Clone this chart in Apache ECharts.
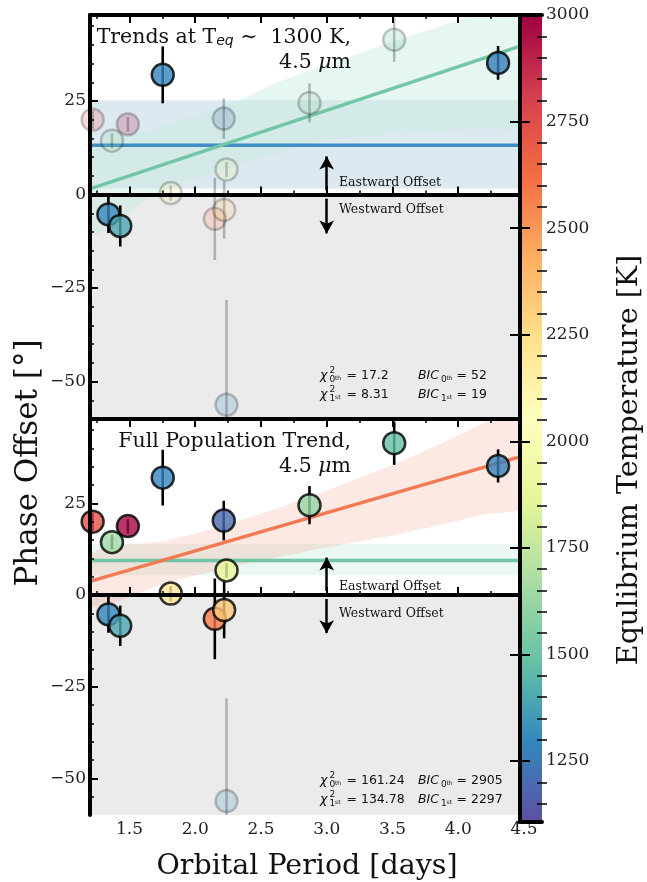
<!DOCTYPE html>
<html>
<head>
<meta charset="utf-8">
<script src="https://cdn.jsdelivr.net/npm/echarts@6/dist/echarts.min.js"></script>
<style>
  html, body { margin: 0; padding: 0; background: #fff; }
  #chart { width: 647px; height: 882px; }
</style>
</head>
<body>
<div id="chart"></div>
<script>
// ---- Planets: orbital period [days], 4.5 um phase offset [deg], 1-sigma error, T_eq [K]
const period    = [1.22, 1.34, 1.367, 1.43, 1.488, 1.753, 1.814, 2.149, 2.22, 2.217, 2.238, 2.238, 2.869, 3.513, 4.303];
const offset    = [20.0, -5.3, 14.4, -8.4, 18.8, 32.0, 0.4, -6.5, -4.1, 20.3, 6.7, -56.2, 24.5, 41.4, 35.2];
const offsetErr = [2.5, 5.0, 2.0, 5.5, 2.0, 7.6, 2.0, 11.0, 7.7, 5.4, 2.0, 28.0, 5.2, 5.9, 4.5];
const teq       = [2730, 1290, 1650, 1390, 2980, 1290, 2200, 2580, 2335, 1195, 1880, 1300, 1610, 1480, 1270];
// planets inside the T_eq ~ 1300 K selection, and the excluded outlier
const inTeqBin  = [0, 1, 0, 1, 0, 1, 0, 0, 0, 0, 0, 0, 0, 0, 1];
const isOutlier = [0, 0, 0, 0, 0, 0, 0, 0, 0, 0, 0, 1, 0, 0, 0];

// ---- Fits, upper panel (T_eq ~ 1300 K subset)
const flatFitTop     = 13.2;
const flatBandTop    = [1.6, 25.2];
const slopeFitTopX   = [1.2, 4.5];
const slopeFitTopY   = [1.5, 40.0];
const slopeBandTopX  = [1.2, 1.7, 2.32, 2.64, 3.02, 3.6, 4.2, 4.5];
const slopeBandTopHi = [11.0, 17.5, 25.0, 30.2, 35.0, 42.0, 49.0, 53.0];
const slopeBandTopLo = [-11.0, 0.0, 8.0, 11.1, 14.7, 16.5, 17.8, 18.5];

// ---- Fits, lower panel (full population)
const flatFitAll     = 9.4;
const flatBandAll    = [5.4, 13.9];
const slopeFitAllX   = [1.2, 4.5];
const slopeFitAllY   = [3.7, 38.0];
const slopeBandAllX  = [1.2, 1.8, 2.4, 3.0, 3.6, 4.2, 4.5];
const slopeBandAllHi = [11.0, 15.0, 21.0, 28.5, 37.0, 47.0, 52.0];
const slopeBandAllLo = [-3.0, 3.5, 8.5, 13.0, 17.0, 22.0, 24.5];

// ---- Fit statistics
const statsTop = { chi0: '17.2',   chi1: '8.31',   bic0: '52',   bic1: '19' };
const statsAll = { chi0: '161.24', chi1: '134.78', bic0: '2905', bic1: '2297' };

// ---- Axis ranges and ticks
const xMin = 1.2, xMax = 4.5, yMin = -60, yMax = 48;
const xMajor = [1.5, 2.0, 2.5, 3.0, 3.5, 4.0, 4.5];
const xMinor = [1.25, 1.75, 2.25, 2.75, 3.25, 3.75, 4.25];
const yMajor = [-50, -25, 0, 25];
const tMin = 1107, tMax = 3000;
const tMajor = [1250, 1500, 1750, 2000, 2250, 2500, 2750, 3000];

const yMinor = [];
for (let v = -55; v <= 45; v += 5) if (v % 25 !== 0) yMinor.push(v);
const tMinor = [];
for (let v = 1150; v < 3000; v += 50) if (v % 250 !== 0) tMinor.push(v);

// ---- Spectral_r colour map
const SPECTRAL = ['#5e4fa2', '#3288bd', '#66c2a5', '#abdda4', '#e6f598', '#ffffbf',
                  '#fee08b', '#fdae61', '#f46d43', '#d53e4f', '#9e0142'];
function hexRgb(h) { return [1, 3, 5].map(i => parseInt(h.substr(i, 2), 16)); }
function cmap(T, alpha) {
  let t = Math.max(0, Math.min(1, (T - tMin) / (tMax - tMin))) * (SPECTRAL.length - 1);
  const i = Math.min(SPECTRAL.length - 2, Math.floor(t));
  const f = t - i;
  const a = hexRgb(SPECTRAL[i]), b = hexRgb(SPECTRAL[i + 1]);
  const c = a.map((v, k) => Math.round(v + (b[k] - v) * f));
  return 'rgba(' + c[0] + ',' + c[1] + ',' + c[2] + ',' + (alpha == null ? 1 : alpha) + ')';
}

const SERIF = 'DejaVu Serif';
const SANS = 'DejaVu Sans';
const fmtMinus = v => (v < 0 ? '\u2212' + (-v) : String(v));

const panels = [
  { top: 15, height: 404 },
  { top: 419, height: 403 }
];
const GRID_L = 90, GRID_W = 434;

const grids = panels.map(p => ({ left: GRID_L, top: p.top, width: GRID_W, height: p.height }));
// colour bar
grids.push({ left: 520, top: 15, width: 22, height: 807 });

const xAxes = [], yAxes = [];
panels.forEach((p, g) => {
  const base = { gridIndex: g, type: 'value', min: xMin, max: xMax, z: 10, splitLine: { show: false } };
  ['bottom', 'top'].forEach(pos => {
    xAxes.push(Object.assign({}, base, {
      position: pos,
      axisLine: { show: true, lineStyle: { color: '#000', width: 4 } },
      axisTick: { show: true, inside: true, length: 8, customValues: xMajor, lineStyle: { color: '#000', width: 2 } },
      axisLabel: (pos === 'bottom' && g === 1)
        ? { show: true, customValues: xMajor, formatter: v => v.toFixed(1), fontFamily: SERIF, fontSize: 17, color: '#222', margin: 6 }
        : { show: false },
      name: (pos === 'bottom' && g === 1) ? 'Orbital Period [days]' : '',
      nameLocation: 'middle', nameGap: 37,
      nameTextStyle: { fontFamily: SERIF, fontSize: 28.5, color: '#111' }
    }));
    xAxes.push(Object.assign({}, base, {
      position: pos,
      axisLine: { show: false },
      axisTick: { show: true, inside: true, length: 4, customValues: xMinor, lineStyle: { color: '#000', width: 1.5 } },
      axisLabel: { show: false }
    }));
  });
  const ybase = { gridIndex: g, type: 'value', min: yMin, max: yMax, z: 10, position: 'left', splitLine: { show: false } };
  yAxes.push(Object.assign({}, ybase, {
    axisLine: { show: true, lineStyle: { color: '#000', width: 4 } },
    axisTick: { show: true, inside: true, length: 8, customValues: yMajor, lineStyle: { color: '#000', width: 2 } },
    axisLabel: { show: true, customValues: yMajor, formatter: fmtMinus, fontFamily: SERIF, fontSize: 17, color: '#222', margin: 4 }
  }));
  yAxes.push(Object.assign({}, ybase, {
    axisLine: { show: false },
    axisTick: { show: true, inside: true, length: 4, customValues: yMinor, lineStyle: { color: '#000', width: 1.5 } },
    axisLabel: { show: false }
  }));
});
// colour-bar axes (grid 2)
const cbX = xAxes.length;
['bottom', 'top'].forEach(pos => xAxes.push({
  gridIndex: 2, type: 'value', min: 0, max: 1, position: pos, z: 30,
  axisLine: { show: true, lineStyle: { color: '#000', width: 4 } },
  axisTick: { show: false }, axisLabel: { show: false }, splitLine: { show: false }
}));
const cbY = yAxes.length;
yAxes.push({
  gridIndex: 2, type: 'value', min: tMin, max: tMax, position: 'right', z: 30,
  axisLine: { show: true, lineStyle: { color: '#000', width: 4 } },
  axisTick: { show: true, inside: false, length: 10, customValues: tMajor, lineStyle: { color: '#000', width: 2 } },
  axisLabel: { show: true, customValues: tMajor, formatter: v => String(v), fontFamily: SERIF, fontSize: 17, color: '#222', margin: 4 },
  splitLine: { show: false }
});
[[true, 10, tMajor, 2], [true, 5, tMinor, 1.5], [false, 5, tMinor, 1.5]].forEach(([inside, len, vals, w]) => yAxes.push({
  gridIndex: 2, type: 'value', min: tMin, max: tMax, position: 'right', z: 30,
  axisLine: { show: false },
  axisTick: { show: true, inside: inside, length: len, customValues: vals, lineStyle: { color: '#000', width: w } },
  axisLabel: { show: false }, splitLine: { show: false }
}));
yAxes.push({
  gridIndex: 2, type: 'value', min: tMin, max: tMax, position: 'left', z: 30,
  axisLine: { show: true, lineStyle: { color: '#000', width: 4 } },
  axisTick: { show: false }, axisLabel: { show: false }, splitLine: { show: false }
});

// axis indices per panel: x bottom major = 4g, y left major = 2g
const series = [];

function bandSeries(g, xs, hi, lo, color, z) {
  return {
    type: 'custom', xAxisIndex: 4 * g, yAxisIndex: 2 * g, clip: true, z: z, silent: true,
    data: [0],
    renderItem: (params, api) => {
      const pts = [];
      xs.forEach((x, i) => pts.push(api.coord([x, hi[i]])));
      for (let i = xs.length - 1; i >= 0; i--) pts.push(api.coord([xs[i], lo[i]]));
      return { type: 'polygon', shape: { points: pts, smooth: 0.3 }, style: { fill: color } };
    }
  };
}

function lineSeries(g, xs, ys, color, z) {
  return {
    type: 'line', xAxisIndex: 4 * g, yAxisIndex: 2 * g, z: z, silent: true,
    symbol: 'none', data: xs.map((x, i) => [x, ys[i]]),
    lineStyle: { color: color, width: 3.5 }
  };
}

panels.forEach((p, g) => {
  const xi = 4 * g, yi = 2 * g;
  // shaded westward half and horizontal fit band
  const areas = [[{ yAxis: yMin, itemStyle: { color: '#ebebeb' } }, { yAxis: 0 }]];
  const fb = g === 0 ? flatBandTop : flatBandAll;
  areas.push([{ yAxis: fb[0], itemStyle: { color: g === 0 ? 'rgba(60,135,170,0.18)' : 'rgba(102,194,165,0.13)' } }, { yAxis: fb[1] }]);
  series.push({
    type: 'line', xAxisIndex: xi, yAxisIndex: yi, z: 1, silent: true, data: [],
    markArea: { silent: true, data: areas },
  });
  if (g === 0) series.push(bandSeries(0, slopeBandTopX, slopeBandTopHi, slopeBandTopLo, 'rgba(200,236,222,0.45)', 2));
  else series.push(bandSeries(1, slopeBandAllX, slopeBandAllHi, slopeBandAllLo, 'rgba(240,120,80,0.16)', 2));

  // zero line
  series.push({
    type: 'line', xAxisIndex: xi, yAxisIndex: yi, z: 3, silent: true, data: [],
    markLine: {
      silent: true, symbol: 'none', label: { show: false },
      lineStyle: { color: '#8a8a8a', width: 1.5, type: [6, 3] },
      data: [{ yAxis: 0 }]
    }
  });
  // eastward / westward arrows
  series.push({
    type: 'line', xAxisIndex: xi, yAxisIndex: yi, z: 5, silent: true, data: [],
    markLine: {
      silent: true, symbol: ['none', 'arrow'], symbolSize: [11, 13], label: { show: false },
      lineStyle: { color: '#000', width: 2.5, type: 'solid' },
      data: [
        [{ coord: [3.0, 1.1] }, { coord: [3.0, 10.2] }],
        [{ coord: [3.0, -1.1] }, { coord: [3.0, -10.4] }]
      ]
    }
  });

  // fit lines
  if (g === 0) {
    series.push(lineSeries(0, [xMin, xMax], [flatFitTop, flatFitTop], '#3f8ec4', 4));
    series.push(lineSeries(0, slopeFitTopX, slopeFitTopY, '#72c6a6', 4));
  } else {
    series.push(lineSeries(1, [xMin, xMax], [flatFitAll, flatFitAll], '#72c6a6', 4));
    series.push(lineSeries(1, slopeFitAllX, slopeFitAllY, '#f27a52', 4));
  }

  const faded = i => (g === 0 ? (!inTeqBin[i] || isOutlier[i]) : isOutlier[i]);
  const idx = period.map((_, i) => i);
  // faded points first, highlighted ones on top
  const order = idx.filter(i => faded(i)).concat(idx.filter(i => !faded(i)));

  // error bars
  series.push({
    type: 'custom', xAxisIndex: xi, yAxisIndex: yi, clip: true, z: 6, silent: true,
    data: order.map(i => [period[i], offset[i], offsetErr[i], faded(i) ? 1 : 0]),
    renderItem: (params, api) => {
      const x = api.value(0), y = api.value(1), e = api.value(2);
      const a = api.coord([x, y - e]), b = api.coord([x, y + e]);
      return {
        type: 'line', shape: { x1: a[0], y1: a[1], x2: b[0], y2: b[1] },
        style: { stroke: api.value(3) ? 'rgba(0,0,0,0.25)' : '#000', lineWidth: 2.6 }
      };
    }
  });
  // planets
  series.push({
    type: 'scatter', xAxisIndex: xi, yAxisIndex: yi, z: 7, silent: true,
    symbol: 'circle', symbolSize: 22,
    data: order.map(i => ({
      value: [period[i], offset[i]],
      itemStyle: faded(i)
        ? { color: cmap(teq[i], 0.25), borderColor: 'rgba(0,0,0,0.27)', borderWidth: 2.5 }
        : { color: cmap(teq[i], 1), borderColor: '#000', borderWidth: 2.5 }
    }))
  });
});

// colour bar fill
series.push({
  type: 'custom', xAxisIndex: cbX, yAxisIndex: cbY, z: 20, silent: true, data: [0],
  renderItem: (params, api) => {
    const p0 = api.coord([0, tMax]), p1 = api.coord([1, tMin]);
    const stops = SPECTRAL.map((c, i) => ({ offset: 1 - i / (SPECTRAL.length - 1), color: c })).reverse();
    return {
      type: 'rect',
      shape: { x: p0[0], y: p0[1], width: p1[0] - p0[0], height: p1[1] - p0[1] },
      style: { fill: new echarts.graphic.LinearGradient(0, 0, 0, 1, stops) }
    };
  }
});

// ---- text annotations
const graphics = [];
function txt(x, y, s, size, opts) {
  graphics.push({
    type: 'text', x: x, y: y, z: 50, silent: true,
    style: Object.assign({ text: s, fontFamily: SERIF, fontSize: size, fill: '#111',
      align: 'left', verticalAlign: 'bottom' }, opts || {})
  });
}
// axis titles
graphics.push({
  type: 'text', x: 29, y: 463, rotation: Math.PI / 2, z: 50, silent: true,
  style: { text: 'Phase Offset [\u00b0]', fontFamily: SERIF, fontSize: 31, fill: '#111', align: 'center', verticalAlign: 'middle' }
});
graphics.push({
  type: 'text', x: 630, y: 460, rotation: Math.PI / 2, z: 50, silent: true,
  style: { text: 'Equlibrium Temperature [K]', fontFamily: SERIF, fontSize: 28.5, fill: '#111', align: 'center', verticalAlign: 'middle' }
});

function titleBlock(yOff, line1Rich) {
  graphics.push({
    type: 'text', x: 351, y: 48 + yOff, z: 50, silent: true,
    style: {
      text: line1Rich, align: 'right', verticalAlign: 'bottom',
      fontFamily: SERIF, fontSize: 20.5, fill: '#111',
      rich: {
        sub: { fontFamily: SANS, fontStyle: 'italic', fontSize: 14, padding: [9, 0, 0, 0], fill: '#111', verticalAlign: 'bottom' },
        n: { fontFamily: SERIF, fontSize: 20.5, fill: '#111', verticalAlign: 'bottom' }
      }
    }
  });
  graphics.push({
    type: 'text', x: 351, y: 73 + yOff, z: 50, silent: true,
    style: {
      text: '{n|4.5 }{mu|\u03bc}{n|m}', align: 'right', verticalAlign: 'bottom',
      fontFamily: SERIF, fontSize: 20.5, fill: '#111',
      rich: {
        n: { fontFamily: SERIF, fontSize: 20.5, fill: '#111' },
        mu: { fontFamily: SERIF, fontStyle: 'italic', fontSize: 20.5, fill: '#111' }
      }
    }
  });
}
titleBlock(0, '{n|Trends at T}{sub|eq}{n| \u223c  1300 K,}');
titleBlock(404, '{n|Full Population Trend,}');

// east / west labels
[0, 404].forEach(d => {
  txt(339, 189 + d, 'Eastward Offset', 12.5);
  txt(339, 216 + d, 'Westward Offset', 12.5);
});

// fit statistics
function stat(x, base, sym, sup, subA, subB, rest) {
  const isChi = sym === '\u03c7';
  txt(x, base + 3, sym, 12.5, { fontFamily: SANS, fontStyle: 'italic' });
  const w = isChi ? 9.5 : 23;
  if (sup) txt(x + w, base - 4, sup, 9, { fontFamily: SANS });
  txt(x + w, base + 5, subA, 9, { fontFamily: SANS });
  txt(x + w + 5.5, base + 2, subB, 6, { fontFamily: SANS });
  txt(x + (isChi ? 26.5 : 38.5), base + 3, rest, 12.5, { fontFamily: SANS });
}
function statBlock(d, s) {
  stat(320, 379 + d, '\u03c7', '2', '0', 'th', '= ' + s.chi0);
  stat(320, 398 + d, '\u03c7', '2', '1', 'st', '= ' + s.chi1);
  stat(418, 379 + d, 'BIC', '', '0', 'th', '= ' + s.bic0);
  stat(418, 398 + d, 'BIC', '', '1', 'st', '= ' + s.bic1);
}
statBlock(0, statsTop);
statBlock(405, statsAll);

const chart = echarts.init(document.getElementById('chart'), null, { renderer: 'canvas' });
chart.setOption({
  animation: false,
  backgroundColor: '#fff',
  grid: grids,
  xAxis: xAxes,
  yAxis: yAxes,
  series: series,
  graphic: graphics
});
</script>
</body>
</html>
